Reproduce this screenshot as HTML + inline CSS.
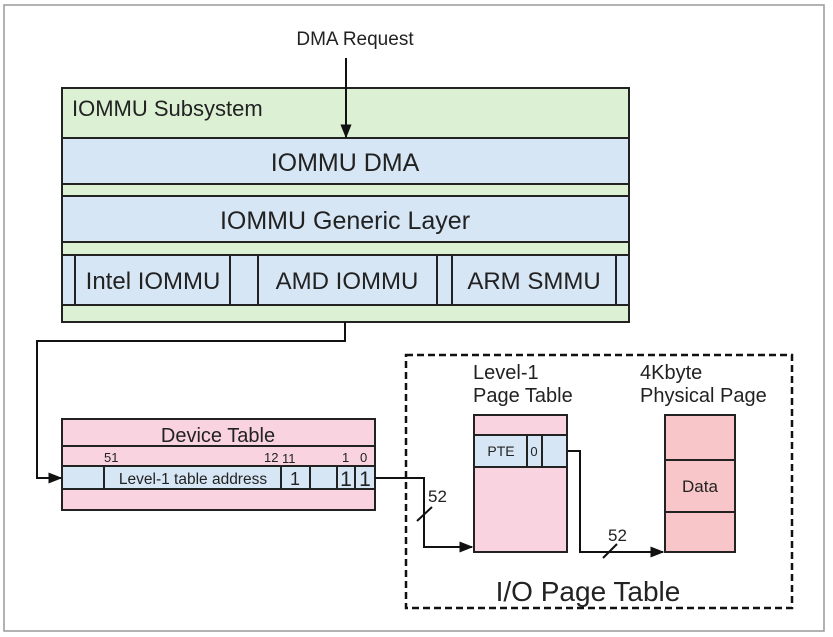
<!DOCTYPE html>
<html><head><meta charset="utf-8"><style>
html,body{margin:0;padding:0;background:#fff;}
svg{display:block;}
text{font-family:"Liberation Sans",sans-serif;fill:#222;}
</style></head><body>
<svg width="833" height="637" viewBox="0 0 833 637" xmlns="http://www.w3.org/2000/svg">
<defs>
<marker id="ah" viewBox="0 0 10 10" refX="9" refY="5" markerWidth="7" markerHeight="7" orient="auto"><path d="M0,1 L10,5 L0,9 z" fill="#111"/></marker>
</defs>
<rect x="4" y="5" width="820" height="626" fill="#fff" stroke="#999" stroke-width="1.5"/>
<text x="355" y="45" font-size="19" text-anchor="middle">DMA Request</text>
<rect x="62" y="88" width="567" height="234" fill="#dcf0d4" stroke="#222" stroke-width="2"/>
<text x="72" y="116" font-size="22">IOMMU Subsystem</text>
<rect x="62" y="138" width="567" height="46" fill="#d6e6f5" stroke="#222" stroke-width="2"/>
<text x="345" y="171" font-size="25" text-anchor="middle">IOMMU DMA</text>
<rect x="62" y="196" width="567" height="46" fill="#d6e6f5" stroke="#222" stroke-width="2"/>
<text x="345" y="229" font-size="25" text-anchor="middle">IOMMU Generic Layer</text>
<rect x="62" y="255" width="567" height="50" fill="#d6e6f5" stroke="#222" stroke-width="2"/>
<rect x="75" y="255" width="155" height="50" fill="#d6e6f5" stroke="#222" stroke-width="2"/>
<rect x="258" y="255" width="179" height="50" fill="#d6e6f5" stroke="#222" stroke-width="2"/>
<rect x="452" y="255" width="164" height="50" fill="#d6e6f5" stroke="#222" stroke-width="2"/>
<text x="153" y="289" font-size="24" text-anchor="middle">Intel IOMMU</text>
<text x="347" y="289" font-size="24" text-anchor="middle">AMD IOMMU</text>
<text x="534" y="289" font-size="24" text-anchor="middle">ARM SMMU</text>
<line x1="346" y1="58" x2="346" y2="137" stroke="#111" stroke-width="2" marker-end="url(#ah)"/>
<polyline points="345,322 345,341 37,341 37,478 61,478" fill="none" stroke="#111" stroke-width="2" marker-end="url(#ah)"/>
<rect x="62" y="419" width="313" height="91" fill="#fad3e0" stroke="#222" stroke-width="2"/>
<line x1="62" y1="446" x2="375" y2="446" stroke="#222" stroke-width="2"/>
<text x="218" y="442" font-size="20" text-anchor="middle">Device Table</text>
<rect x="62" y="466" width="313" height="23" fill="#d6e6f5" stroke="#222" stroke-width="2"/>
<g stroke="#222" stroke-width="2">
<line x1="104" y1="466" x2="104" y2="489"/><line x1="281" y1="466" x2="281" y2="489"/>
<line x1="310" y1="466" x2="310" y2="489"/><line x1="337" y1="466" x2="337" y2="489"/>
<line x1="355" y1="466" x2="355" y2="489"/>
</g>
<text x="193" y="484" font-size="15.5" text-anchor="middle">Level-1 table address</text>
<text x="295" y="485" font-size="18" text-anchor="middle">1</text>
<text x="346" y="486" font-size="21" text-anchor="middle">1</text>
<text x="365" y="486" font-size="21" text-anchor="middle">1</text>
<g font-size="13"><text x="104" y="462">51</text><text x="264" y="462">12</text><text x="282" y="463">11</text><text x="342" y="462">1</text><text x="360" y="462">0</text></g>
<rect x="406" y="355" width="386" height="253" fill="none" stroke="#111" stroke-width="2.5" stroke-dasharray="7,4"/>
<text x="588" y="601" font-size="28" text-anchor="middle">I/O Page Table</text>
<text x="473" y="379" font-size="20">Level-1</text>
<text x="473" y="402" font-size="20">Page Table</text>
<text x="640" y="379" font-size="20">4Kbyte</text>
<text x="640" y="402" font-size="20">Physical Page</text>
<rect x="474" y="415" width="93" height="137" fill="#fad3e0" stroke="#222" stroke-width="2"/>
<rect x="474" y="435" width="93" height="32" fill="#d6e6f5" stroke="#222" stroke-width="2"/>
<line x1="527" y1="435" x2="527" y2="467" stroke="#222" stroke-width="2"/>
<line x1="542" y1="435" x2="542" y2="467" stroke="#222" stroke-width="2"/>
<text x="501" y="456" font-size="14" text-anchor="middle">PTE</text>
<text x="534" y="456" font-size="13" text-anchor="middle">0</text>
<rect x="665" y="415" width="70" height="137" fill="#f8c6c9" stroke="#222" stroke-width="2"/>
<line x1="665" y1="460" x2="735" y2="460" stroke="#222" stroke-width="2"/>
<line x1="665" y1="512" x2="735" y2="512" stroke="#222" stroke-width="2"/>
<text x="700" y="492" font-size="17" text-anchor="middle">Data</text>
<polyline points="375,478 424,478 424,547 472,547" fill="none" stroke="#111" stroke-width="2" marker-end="url(#ah)"/>
<line x1="417" y1="521" x2="432" y2="507" stroke="#111" stroke-width="2"/>
<text x="428" y="502" font-size="17">52</text>
<polyline points="568,451 580,451 580,552 663,552" fill="none" stroke="#111" stroke-width="2" marker-end="url(#ah)"/>
<line x1="603" y1="558" x2="617" y2="544" stroke="#111" stroke-width="2"/>
<text x="608" y="541" font-size="17">52</text>
</svg>
</body></html>
